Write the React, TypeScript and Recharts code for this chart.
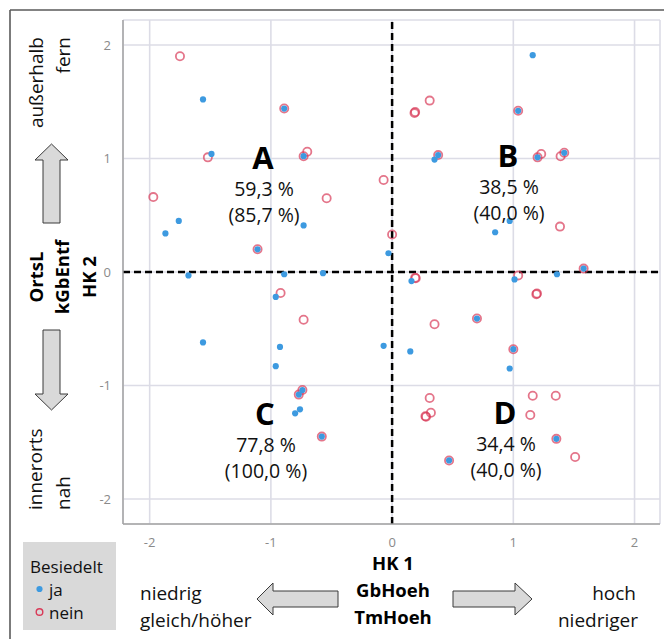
import React from "react";
import {
  ScatterChart,
  Scatter,
  XAxis,
  YAxis,
  CartesianGrid,
  ReferenceLine,
} from "recharts";

// --- data -------------------------------------------------------------
const jaX = [
  -1.56, -0.89, -1.49, -0.73, -1.76, -1.87, -0.73, -1.11, -1.68, -0.89, -0.57, -0.96,
  1.16, 1.04, 0.38, 0.35, 1.2, 1.42, -0.03, 0.97, 0.85, 1.58, 1.36, 1.01, 0.16, 0.7,
  -1.56, -0.925, -0.96, -0.74, -0.77, -0.76, -0.8, -0.58, -0.07, 0.15, 1.0, 0.97, 1.355, 0.47,
];
const jaY = [
  1.52, 1.44, 1.04, 1.02, 0.45, 0.34, 0.41, 0.2, -0.03, -0.02, -0.01, -0.22,
  1.91, 1.42, 1.03, 0.99, 1.01, 1.05, 0.165, 0.45, 0.35, 0.03, -0.02, -0.065, -0.08, -0.41,
  -0.62, -0.66, -0.83, -1.04, -1.08, -1.21, -1.245, -1.45, -0.65, -0.7, -0.68, -0.85, -1.47, -1.66,
];
const neinX = [
  -1.75, -0.89, -1.52, -0.73, -0.7, -1.97, -0.54, -1.11, -0.92, -0.73,
  0.31, 0.19, 0.185, 1.04, 0.38, 1.23, 1.2, 1.39, 1.42, -0.07, 0.0, 1.385, 1.58, 1.04,
  0.19, 0.195, 1.195, 1.19, 0.7, 0.35,
  -0.74, -0.77, -0.58, 1.0, 0.31, 1.16, 1.35, 0.32, 0.28, 0.275, 1.14, 1.355, 0.47, 1.51,
];
const neinY = [
  1.9, 1.44, 1.01, 1.02, 1.06, 0.66, 0.65, 0.2, -0.185, -0.42,
  1.51, 1.41, 1.4, 1.42, 1.03, 1.04, 1.01, 1.02, 1.05, 0.81, 0.33, 0.4, 0.03, -0.03,
  -0.05, -0.055, -0.19, -0.195, -0.41, -0.46,
  -1.04, -1.08, -1.45, -0.68, -1.11, -1.09, -1.09, -1.24, -1.275, -1.27, -1.26, -1.47, -1.66, -1.63,
];
const axisTicks = [-2, -1, 0, 1, 2];
const seriesNames = ["ja", "nein"];
const legendTitle = "Besiedelt";
const quadrantLetters = ["A", "B", "C", "D"];
const quadrantShare = ["59,3 %", "38,5 %", "77,8 %", "34,4 %"];
const quadrantShareParen = ["(85,7 %)", "(40,0 %)", "(100,0 %)", "(40,0 %)"];
const xTitleLines = ["HK 1", "GbHoeh", "TmHoeh"];
const yTitleLines = ["OrtsL", "kGbEntf", "HK 2"];

const jaData = jaX.map((x, i) => ({ x, y: jaY[i] }));
const neinData = neinX.map((x, i) => ({ x, y: neinY[i] }));

const FONT = "'Open Sans', 'DejaVu Sans', sans-serif";
const BLUE = "#3d9ae0";
const RED = "#d93a58";

const BlueDot = (p: any) => <circle cx={p.cx} cy={p.cy} r={3.1} fill={BLUE} />;
const RedRing = (p: any) => (
  <circle cx={p.cx} cy={p.cy} r={4.1} fill="none" stroke={RED} strokeWidth={1.8} strokeOpacity={0.7} />
);

const arrowStyle = { fill: "#d9d9d9", stroke: "#3a3a3a", strokeWidth: 1 };

// quadrant label anchor positions (overlay text)
const qPos = [
  { x: 263, y: 157 },
  { x: 508, y: 155 },
  { x: 265, y: 413 },
  { x: 505, y: 412 },
];

export default function App() {
  return (
    <div style={{ position: "absolute", left: 0, top: 0, width: 664, height: 639, background: "#fff" }}>
      <ScatterChart width={664} height={639} margin={{ top: 20, right: 4, bottom: 85, left: 83 }}>
        <CartesianGrid stroke="#dcdce6" strokeWidth={1.6} />
        <XAxis
          type="number"
          dataKey="x"
          domain={[-2.22, 2.21]}
          ticks={axisTicks}
          height={30}
          tickLine={false}
          axisLine={{ stroke: "#a3a3a3", strokeWidth: 1.5 }}
          tickMargin={8}
          tick={{ fill: "#8a8a8a", fontSize: 13, fontFamily: FONT }}
          allowDataOverflow
        />
        <YAxis
          type="number"
          dataKey="y"
          domain={[-2.22, 2.22]}
          ticks={axisTicks}
          width={40}
          tickLine={false}
          axisLine={{ stroke: "#a3a3a3", strokeWidth: 1.5 }}
          tickMargin={6}
          tick={{ fill: "#8a8a8a", fontSize: 13, fontFamily: FONT }}
          allowDataOverflow
        />
        <ReferenceLine x={0} stroke="#000" strokeWidth={2.5} strokeDasharray="7 4" />
        <ReferenceLine y={0} stroke="#000" strokeWidth={2.5} strokeDasharray="7 4" />
        <Scatter name={seriesNames[1]} data={neinData} shape={RedRing} isAnimationActive={false} />
        <Scatter name={seriesNames[0]} data={jaData} shape={BlueDot} isAnimationActive={false} />
      </ScatterChart>

      <svg
        width={664}
        height={639}
        style={{ position: "absolute", left: 0, top: 0, pointerEvents: "none" }}
        fontFamily={FONT}
      >
        {/* frame */}
        <line x1={10} y1={10} x2={664} y2={10} stroke="#5a5a5a" strokeWidth={1.6} />
        <line x1={10} y1={10} x2={10} y2={639} stroke="#5a5a5a" strokeWidth={1.6} />

        {/* quadrant labels */}
        {qPos.map((p, i) => (
          <g key={i}>
            <text x={p.x} y={p.y} textAnchor="middle" dominantBaseline="central" fontSize={31} fontWeight="bold" fill="#000">
              {quadrantLetters[i]}
            </text>
            <text x={p.x + 1} y={p.y + 31} textAnchor="middle" dominantBaseline="central" fontSize={19.5} fill="#111">
              {quadrantShare[i]}
            </text>
            <text x={p.x + 1} y={p.y + 57} textAnchor="middle" dominantBaseline="central" fontSize={19.5} fill="#111">
              {quadrantShareParen[i]}
            </text>
          </g>
        ))}

        {/* y axis side labels */}
        <text transform="translate(36,37) rotate(-90)" textAnchor="end" dominantBaseline="central" fontSize={19} fill="#111">außerhalb</text>
        <text transform="translate(63,37) rotate(-90)" textAnchor="end" dominantBaseline="central" fontSize={19} fill="#111">fern</text>
        <text transform="translate(35,510) rotate(-90)" textAnchor="start" dominantBaseline="central" fontSize={19} fill="#111">innerorts</text>
        <text transform="translate(63,510) rotate(-90)" textAnchor="start" dominantBaseline="central" fontSize={19} fill="#111">nah</text>
        {yTitleLines.map((t, i) => (
          <text key={t} transform={`translate(${35 + i * 26.5},277) rotate(-90)`} textAnchor="middle" dominantBaseline="central" fontSize={18.5} fontWeight="bold" fill="#000">
            {t}
          </text>
        ))}

        {/* vertical arrows */}
        <polygon points="51.5,144 68,160 60,160 60,223 43,223 43,160 35,160" style={arrowStyle} />
        <polygon points="43,330 60,330 60,394 68,394 51.5,410 35,394 43,394" style={arrowStyle} />

        {/* x axis bottom labels */}
        {xTitleLines.map((t, i) => (
          <text key={t} x={393} y={562 + i * 27} textAnchor="middle" dominantBaseline="central" fontSize={18.5} fontWeight="bold" fill="#000">
            {t}
          </text>
        ))}
        <text x={140} y={593} dominantBaseline="central" fontSize={19} fill="#111">niedrig</text>
        <text x={140} y={620} dominantBaseline="central" fontSize={19} fill="#111">gleich/höher</text>
        <text x={636} y={593} textAnchor="end" dominantBaseline="central" fontSize={19} fill="#111">hoch</text>
        <text x={638} y={620} textAnchor="end" dominantBaseline="central" fontSize={19} fill="#111">niedriger</text>

        {/* horizontal arrows */}
        <polygon points="257,599 273,583 273,591 338,591 338,607 273,607 273,615" style={arrowStyle} />
        <polygon points="453,591 515,591 515,583 532,599 515,615 515,607 453,607" style={arrowStyle} />

        {/* legend */}
        <rect x={23} y={542} width={93} height={88} fill="#d9d9d9" />
        <text x={30} y={566} dominantBaseline="central" fontSize={17} fill="#111">{legendTitle}</text>
        <circle cx={39.5} cy={589} r={3.1} fill={BLUE} />
        <text x={49} y={589} dominantBaseline="central" fontSize={17} fill="#111">{seriesNames[0]}</text>
        <circle cx={39.5} cy={612} r={3.3} fill="none" stroke={RED} strokeWidth={1.4} />
        <text x={49} y={612} dominantBaseline="central" fontSize={17} fill="#111">{seriesNames[1]}</text>
      </svg>
    </div>
  );
}
